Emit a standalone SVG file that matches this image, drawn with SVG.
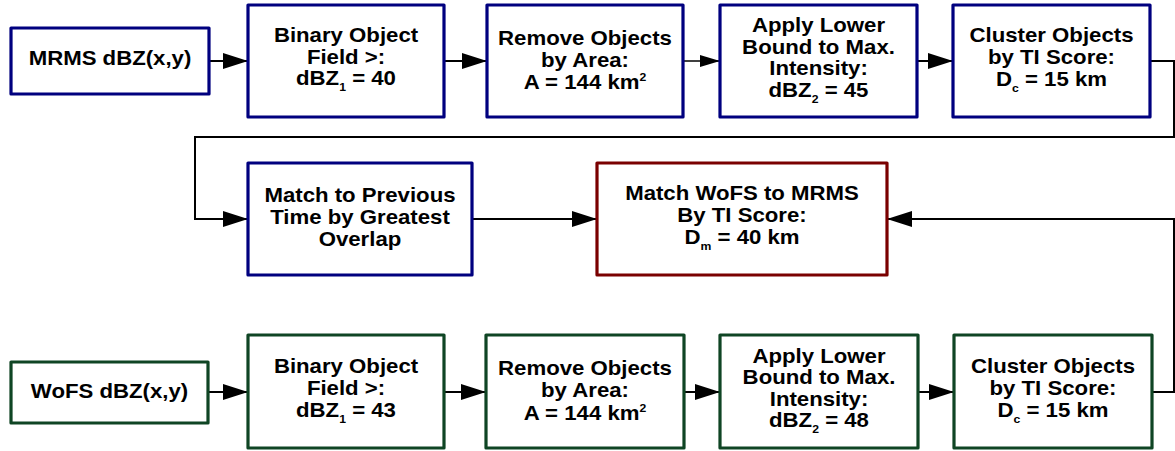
<svg xmlns="http://www.w3.org/2000/svg" width="1175" height="451" viewBox="0 0 1175 451">
<defs>
<style>
.box{fill:#fff;stroke-width:3.2;stroke-linejoin:round}
.b{stroke:#00007f}
.g{stroke:#0f4524}
.r{stroke:#7a0000}
.t{font-family:"Liberation Sans",Arial,sans-serif;font-weight:bold;font-size:20px;fill:#000;text-anchor:middle}
.sub{font-size:11px}
.ln{fill:none;stroke:#000;stroke-width:2}
.thin{stroke-width:1.5}
</style>
<marker id="ah" markerWidth="25" markerHeight="16" refX="25" refY="8" orient="auto" markerUnits="userSpaceOnUse">
<path d="M0,0 L25,8 L0,16 Z" fill="#000"/>
</marker>
<marker id="ahs" markerWidth="20" markerHeight="12" refX="20" refY="6" orient="auto" markerUnits="userSpaceOnUse">
<path d="M0,0 L20,6 L0,12 Z" fill="#000"/>
</marker>
</defs>

<g id="connectors">
<line class="ln" x1="209" y1="61" x2="248" y2="61" marker-end="url(#ah)"/>
<line class="ln" x1="444" y1="61" x2="487" y2="61" marker-end="url(#ah)"/>
<line class="ln thin" x1="683" y1="61" x2="720" y2="61" marker-end="url(#ahs)"/>
<line class="ln" x1="917" y1="61" x2="953" y2="61" marker-end="url(#ah)"/>
<polyline class="ln" points="1150,61 1174,61 1174,137 195,137 195,219 248,219" marker-end="url(#ah)"/>
<line class="ln" x1="472" y1="219" x2="597" y2="219" marker-end="url(#ah)"/>
<polyline class="ln" points="1152,392 1174,392 1174,219 887,219" marker-end="url(#ah)"/>
<line class="ln" x1="208" y1="392" x2="248" y2="392" marker-end="url(#ah)"/>
<line class="ln" x1="444" y1="392" x2="486" y2="392" marker-end="url(#ah)"/>
<line class="ln" x1="684" y1="392" x2="720" y2="392" marker-end="url(#ah)"/>
<line class="ln" x1="918" y1="392" x2="954" y2="392" marker-end="url(#ah)"/>
</g>

<g id="mrms">
<rect class="box b" x="11" y="28" width="198" height="66"/>
<text class="t" transform="translate(110,65) scale(1.11,1)">MRMS dBZ(x,y)</text>
</g>
<g id="binary-mrms">
<rect class="box b" x="248" y="5" width="196" height="112"/>
<text class="t" transform="translate(346,42) scale(1.11,1)">Binary Object</text>
<text class="t" transform="translate(346,63.5) scale(1.11,1)">Field &gt;:</text>
<text class="t" transform="translate(346,85) scale(1.11,1)">dBZ<tspan class="sub" dy="6">1</tspan><tspan dy="-6"> = 40</tspan></text>
</g>
<g id="remove-mrms">
<rect class="box b" x="487" y="5" width="196" height="112"/>
<text class="t" transform="translate(585,45) scale(1.11,1)">Remove Objects</text>
<text class="t" transform="translate(585,67) scale(1.11,1)">by Area:</text>
<text class="t" transform="translate(585,89) scale(1.11,1)">A = 144 km<tspan class="sub" dy="-8">2</tspan></text>
</g>
<g id="apply-mrms">
<rect class="box b" x="720" y="5" width="197" height="112"/>
<text class="t" transform="translate(818.5,32) scale(1.11,1)">Apply Lower</text>
<text class="t" transform="translate(818.5,53.5) scale(1.11,1)">Bound to Max.</text>
<text class="t" transform="translate(818.5,75) scale(1.11,1)">Intensity:</text>
<text class="t" transform="translate(818.5,97) scale(1.11,1)">dBZ<tspan class="sub" dy="6">2</tspan><tspan dy="-6"> = 45</tspan></text>
</g>
<g id="cluster-mrms">
<rect class="box b" x="953" y="5" width="197" height="112"/>
<text class="t" transform="translate(1051.5,42) scale(1.11,1)">Cluster Objects</text>
<text class="t" transform="translate(1051.5,63.5) scale(1.11,1)">by TI Score:</text>
<text class="t" transform="translate(1051.5,86) scale(1.11,1)">D<tspan class="sub" dy="6">c</tspan><tspan dy="-6"> = 15 km</tspan></text>
</g>

<g id="match-previous">
<rect class="box b" x="248" y="163" width="224" height="112"/>
<text class="t" transform="translate(360,202) scale(1.11,1)">Match to Previous</text>
<text class="t" transform="translate(360,224) scale(1.11,1)">Time by Greatest</text>
<text class="t" transform="translate(360,245.5) scale(1.11,1)">Overlap</text>
</g>
<g id="match-wofs">
<rect class="box r" x="597" y="163" width="290" height="112"/>
<text class="t" transform="translate(742,200) scale(1.11,1)">Match WoFS to MRMS</text>
<text class="t" transform="translate(742,222) scale(1.11,1)">By TI Score:</text>
<text class="t" transform="translate(742,243.5) scale(1.11,1)">D<tspan class="sub" dy="6">m</tspan><tspan dy="-6"> = 40 km</tspan></text>
</g>

<g id="wofs">
<rect class="box g" x="11" y="362" width="197" height="61"/>
<text class="t" transform="translate(109.5,398) scale(1.11,1)">WoFS dBZ(x,y)</text>
</g>
<g id="binary-wofs">
<rect class="box g" x="248" y="335" width="196" height="113"/>
<text class="t" transform="translate(346,373) scale(1.11,1)">Binary Object</text>
<text class="t" transform="translate(346,395) scale(1.11,1)">Field &gt;:</text>
<text class="t" transform="translate(346,417) scale(1.11,1)">dBZ<tspan class="sub" dy="6">1</tspan><tspan dy="-6"> = 43</tspan></text>
</g>
<g id="remove-wofs">
<rect class="box g" x="486" y="335" width="198" height="113"/>
<text class="t" transform="translate(585,375) scale(1.11,1)">Remove Objects</text>
<text class="t" transform="translate(585,397) scale(1.11,1)">by Area:</text>
<text class="t" transform="translate(585,419.5) scale(1.11,1)">A = 144 km<tspan class="sub" dy="-8">2</tspan></text>
</g>
<g id="apply-wofs">
<rect class="box g" x="720" y="335" width="198" height="113"/>
<text class="t" transform="translate(819,362.5) scale(1.11,1)">Apply Lower</text>
<text class="t" transform="translate(819,384) scale(1.11,1)">Bound to Max.</text>
<text class="t" transform="translate(819,405.5) scale(1.11,1)">Intensity:</text>
<text class="t" transform="translate(819,427) scale(1.11,1)">dBZ<tspan class="sub" dy="6">2</tspan><tspan dy="-6"> = 48</tspan></text>
</g>
<g id="cluster-wofs">
<rect class="box g" x="954" y="335" width="198" height="113"/>
<text class="t" transform="translate(1053,373) scale(1.11,1)">Cluster Objects</text>
<text class="t" transform="translate(1053,395) scale(1.11,1)">by TI Score:</text>
<text class="t" transform="translate(1053,417) scale(1.11,1)">D<tspan class="sub" dy="6">c</tspan><tspan dy="-6"> = 15 km</tspan></text>
</g>
</svg>
